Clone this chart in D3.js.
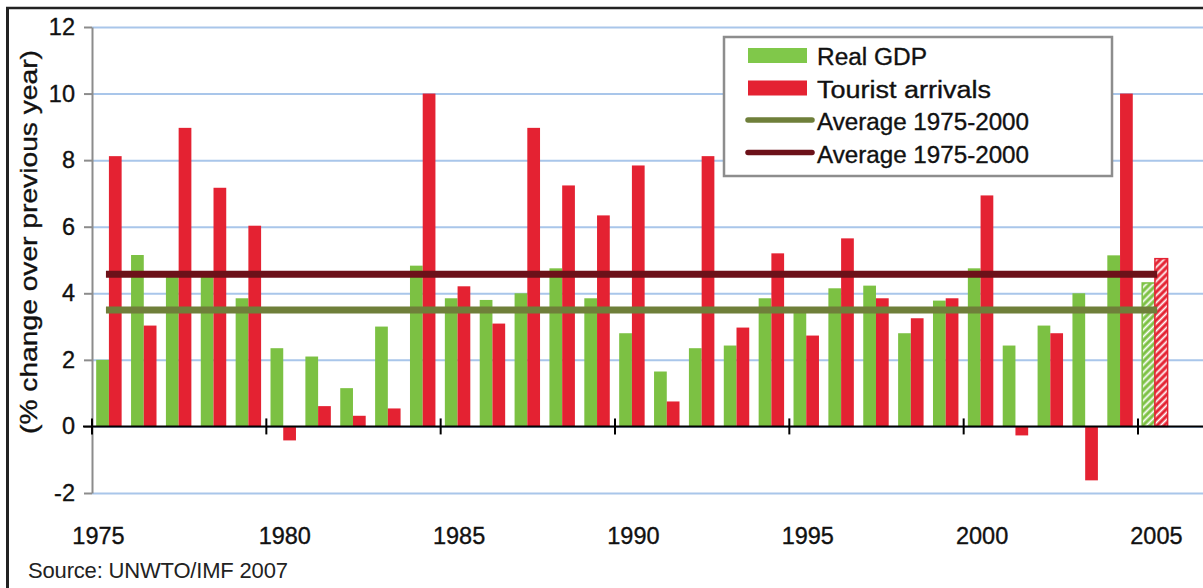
<!DOCTYPE html>
<html>
<head>
<meta charset="utf-8">
<script src="https://cdn.jsdelivr.net/npm/d3@7"></script>
<style>
  html, body { margin: 0; padding: 0; background: #fff; }
  svg { display: block; }
  text { font-family: "Liberation Sans", Arial, Helvetica, sans-serif; }
</style>
</head>
<body>
<svg id="chart" width="1203" height="588"></svg>
<script>
// ---- Data ----
const years = [1975,1976,1977,1978,1979,1980,1981,1982,1983,1984,1985,1986,1987,1988,1989,
               1990,1991,1992,1993,1994,1995,1996,1997,1998,1999,2000,2001,2002,2003,2004,2005];
const realGDP = [2.0,5.15,4.5,4.5,3.85,2.35,2.1,1.15,3.0,4.83,3.85,3.8,4.0,4.75,3.85,
                 2.8,1.65,2.35,2.43,3.85,3.55,4.15,4.23,2.8,3.78,4.75,2.43,3.03,4.0,5.14,4.31];
const touristArrivals = [8.12,3.03,8.97,7.17,6.03,-0.42,0.61,0.32,0.54,10.0,4.21,3.09,8.97,7.24,6.34,
                         7.84,0.75,8.12,2.97,5.2,2.73,5.65,3.85,3.25,3.85,6.94,-0.27,2.8,-1.62,10.0,5.04];
const estimateYears = [2005];
const avgGDP = 3.5;
const avgTourist = 4.57;
const avgFrom = 1975, avgTo = 2005;
const yTicks = [-2,0,2,4,6,8,10,12];
const xTickYears = [1975,1980,1985,1990,1995,2000,2005];
const seriesNames = ["Real GDP","Tourist arrivals","Average 1975-2000","Average 1975-2000"];
const colors = { gdp: "#7cc143", tour: "#e42232", avgGDP: "#6f7f3a", avgTour: "#6c1119" };

// ---- Setup ----
const svg = d3.select("#chart");
const W = 1203, H = 588;
const x = d3.scaleLinear().domain([1975, 2005]).range([92, 1138]);
const y = d3.scaleLinear().domain([-2, 12]).range([493, 27]);
const step = x(1976) - x(1975);
const inner = d3.scaleBand().domain(["gdp","tour"]).range([step*0.12, step*0.85]).padding(0);
const ink = "#111";

svg.append("rect").attr("width", W).attr("height", H).attr("fill", "#fff");

// patterns for estimates
const defs = svg.append("defs");
[["hatchG", colors.gdp], ["hatchR", colors.tour]].forEach(([id, c]) => {
  const p = defs.append("pattern").attr("id", id).attr("patternUnits", "userSpaceOnUse")
    .attr("width", 5).attr("height", 5).attr("patternTransform", "rotate(45)");
  p.append("rect").attr("width", 5).attr("height", 5).attr("fill", c);
  p.append("line").attr("x1", 1.5).attr("y1", 0).attr("x2", 1.5).attr("y2", 5)
    .attr("stroke", "#fff").attr("stroke-width", 1.8);
});

// gridlines
const grid = svg.append("g").attr("transform", `translate(${x(1975)},0)`)
  .call(d3.axisLeft(y).tickValues(yTicks).tickSize(-(W - x(1975))).tickFormat(""));
grid.select(".domain").remove();
grid.selectAll(".tick line").attr("stroke", "#a9c6ea").attr("stroke-width", 2);

// bars
const rows = years.map((yr, i) => ({ yr, gdp: realGDP[i], tour: touristArrivals[i], est: estimateYears.includes(yr) }));
const barG = svg.append("g");
["gdp","tour"].forEach(key => {
  barG.selectAll(null).data(rows).enter().append("rect")
    .attr("x", d => x(d.yr) + inner(key))
    .attr("width", inner.bandwidth())
    .attr("y", d => y(Math.max(0, d[key])))
    .attr("height", d => Math.abs(y(d[key]) - y(0)))
    .attr("fill", d => d.est ? (key === "gdp" ? "url(#hatchG)" : "url(#hatchR)") : colors[key])
    .attr("stroke", d => d.est ? colors[key] : "none")
    .attr("stroke-width", 1.5);
});

// y axis
const yAxis = svg.append("g").attr("transform", `translate(${x(1975)},0)`)
  .call(d3.axisLeft(y).tickValues(yTicks).tickSize(8).tickSizeOuter(0).tickPadding(9)
        .tickFormat(d => String(d)));
yAxis.select(".domain").attr("stroke", "#8c8c8c").attr("stroke-width", 2);
yAxis.selectAll(".tick line").attr("stroke", "#8c8c8c").attr("stroke-width", 2);
yAxis.selectAll(".tick text").attr("font-size", 23.5).attr("fill", ink)
  .attr("stroke", ink).attr("stroke-width", 0.35)
  .attr("font-family", '"Liberation Sans", Arial, sans-serif');

// x axis (zero line)
const y0 = y(0);
svg.append("line").attr("x1", x(1975) - 9).attr("x2", W).attr("y1", y0).attr("y2", y0)
  .attr("stroke", "#000").attr("stroke-width", 2);
svg.append("g").selectAll("line").data(xTickYears).enter().append("line")
  .attr("x1", d => x(d)).attr("x2", d => x(d))
  .attr("y1", y0 - 8).attr("y2", y0 + 8)
  .attr("stroke", "#000").attr("stroke-width", 2);
svg.append("g").selectAll("text").data(xTickYears).enter().append("text")
  .attr("x", (d, i) => i === 0 ? x(d) + 6.5 : x(d) + step / 2 + 1)
  .attr("y", 544)
  .attr("text-anchor", "middle")
  .attr("font-size", 23.5).attr("fill", ink)
  .attr("stroke", ink).attr("stroke-width", 0.35)
  .text(d => d);

// average lines
[[avgGDP, colors.avgGDP], [avgTourist, colors.avgTour]].forEach(([v, c]) => {
  svg.append("line")
    .attr("x1", x(avgFrom) + step * 0.4).attr("x2", x(avgTo) + step * 0.55)
    .attr("y1", y(v)).attr("y2", y(v))
    .attr("stroke", c).attr("stroke-width", 7);
});

// y title
svg.append("text")
  .attr("transform", "translate(37,242) rotate(-90)")
  .attr("text-anchor", "middle")
  .attr("font-size", 24).attr("fill", ink)
  .attr("stroke", ink).attr("stroke-width", 0.35)
  .attr("textLength", 384).attr("lengthAdjust", "spacingAndGlyphs")
  .text("(% change over previous year)");

// legend
const lg = svg.append("g");
lg.append("rect").attr("x", 724).attr("y", 37).attr("width", 388).attr("height", 139)
  .attr("fill", "#fff").attr("stroke", "#8d8d8d").attr("stroke-width", 2.5);
const legendItems = [
  { name: seriesNames[0], type: "rect", color: "#80c84a", len: 110 },
  { name: seriesNames[1], type: "rect", color: colors.tour, len: 174 },
  { name: seriesNames[2], type: "line", color: colors.avgGDP, len: 212 },
  { name: seriesNames[3], type: "line", color: colors.avgTour, len: 212 }
];
legendItems.forEach((it, i) => {
  const cy = 55.5 + i * 32.5;
  if (it.type === "rect") {
    lg.append("rect").attr("x", 748).attr("y", cy - 7.5).attr("width", 59).attr("height", 15).attr("fill", it.color);
  } else {
    lg.append("line").attr("x1", 748).attr("x2", 812).attr("y1", cy - 0.5).attr("y2", cy - 0.5)
      .attr("stroke", it.color).attr("stroke-width", 5.5).attr("stroke-linecap", "round");
  }
  lg.append("text").attr("x", 817).attr("y", cy + 9.5)
    .attr("font-size", 23.5).attr("fill", ink)
    .attr("stroke", ink).attr("stroke-width", 0.35)
    .attr("textLength", it.len).attr("lengthAdjust", "spacingAndGlyphs")
    .text(it.name);
});

// frame
svg.append("line").attr("x1", 6).attr("x2", W).attr("y1", 8).attr("y2", 8).attr("stroke", "#222").attr("stroke-width", 2.5);
svg.append("line").attr("x1", 7.5).attr("x2", 7.5).attr("y1", 7).attr("y2", H).attr("stroke", "#222").attr("stroke-width", 3);

// source
svg.append("text").attr("x", 28).attr("y", 578)
  .attr("font-family", "Lato, 'Open Sans', sans-serif").attr("font-size", 22).attr("fill", "#222")
  .attr("textLength", 260).attr("lengthAdjust", "spacing")
  .text("Source: UNWTO/IMF 2007");
</script>
</body>
</html>
